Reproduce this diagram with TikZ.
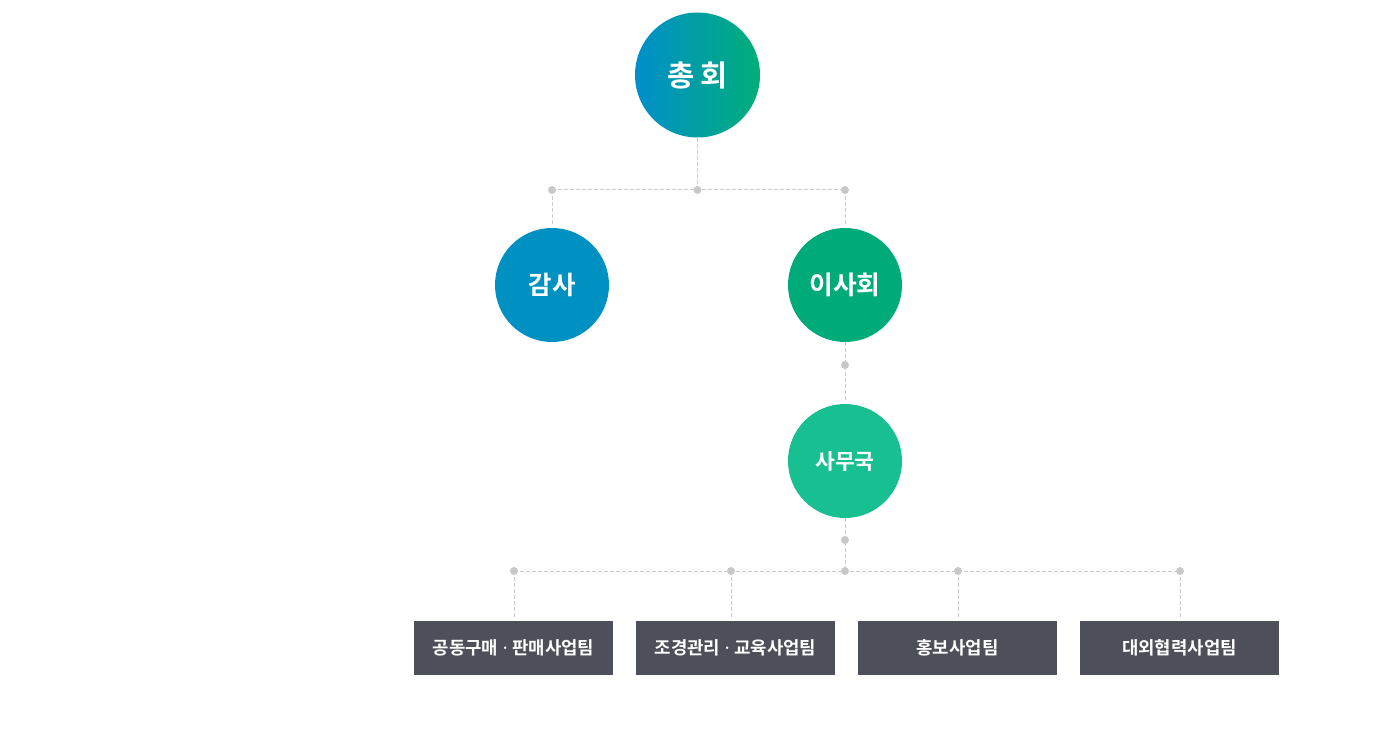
\documentclass[tikz,border=0pt]{standalone}
\usepackage{fontspec}
\newfontfamily\kr{Noto Sans CJK KR}[BoldFont={* Bold}]
\newfontfamily\latn{Noto Sans}
\newcommand{\mdot}{{\latn\bfseries\ ·\ }}
\definecolor{cblue}{HTML}{0091C3}
\definecolor{cgreen}{HTML}{00AB7A}
\definecolor{cmint}{HTML}{18BF90}
\definecolor{gradL}{HTML}{008FCB}
\definecolor{gradR}{HTML}{00AE78}
\definecolor{boxc}{HTML}{4D5059}
\definecolor{linec}{HTML}{CBCBCB}
\definecolor{dotc}{HTML}{C8C8C8}
\tikzset{
  x=1pt, y=-1pt,
  circ/.style={circle, inner sep=0pt, text=white, font=\kr\bfseries},
  team/.style={rectangle, fill=boxc, minimum width=199pt, minimum height=54pt, inner sep=0pt, text=white, font=\kr\bfseries\fontsize{17.8}{19}\selectfont},
  conn/.style={draw=linec, line width=1pt, dash pattern=on 4pt off 2pt},
  dotp/.style={circle, fill=dotc, inner sep=0pt, minimum size=8pt},
}
\begin{document}
\begin{tikzpicture}
\useasboundingbox (0,0) rectangle (1398,730);
% nodes
\node[circ, minimum size=125pt, left color=gradL, right color=gradR, font=\kr\bfseries\fontsize{29.5}{31}\selectfont] (gen) at (697.5,75) {총 회};
\node[circ, minimum size=114pt, fill=cblue, font=\kr\bfseries\fontsize{25.5}{27}\selectfont] (audit) at (552,285) {감사};
\node[circ, minimum size=114pt, fill=cgreen, font=\kr\bfseries\fontsize{25.8}{27}\selectfont] (board) at (845,285) {이사회};
\node[circ, minimum size=114pt, fill=cmint, font=\kr\bfseries\fontsize{21.5}{23}\selectfont] (sec) at (845,461) {사무국};
\node[team] (t1) at (513.5,648) {공동구매\mdot 판매사업팀};
\node[team] (t2) at (735.5,648) {조경관리\mdot 교육사업팀};
\node[team] (t3) at (957.5,648) {홍보사업팀};
\node[team] (t4) at (1179.5,648) {대외협력사업팀};
% junction coordinates
\coordinate (j0) at (697.5,190);
\coordinate (jl) at (552,190);
\coordinate (jr) at (845,190);
\coordinate (ja) at (552,225);
\coordinate (jb) at (845,225);
\coordinate (m1) at (845,365);
\coordinate (m1e) at (845,400);
\coordinate (m2) at (845,540);
\coordinate (k0) at (845,571);
\coordinate (k1) at (514,571);
\coordinate (k2) at (731,571);
\coordinate (k3) at (958,571);
\coordinate (k4) at (1180,571);
\coordinate (e1) at (514,617);
\coordinate (e2) at (731,617);
\coordinate (e3) at (958,617);
\coordinate (e4) at (1180,617);
% connectors
\draw[conn] (gen.south) -- (j0);
\draw[conn] (jl) -- (jr);
\draw[conn] (jl) -- (ja);
\draw[conn] (jr) -- (jb);
\draw[conn] (board.south) -- (m1e);
\draw[conn] (sec.south) -- (k0);
\draw[conn] (k1) -- (k4);
\draw[conn] (k1) -- (e1);
\draw[conn] (k2) -- (e2);
\draw[conn] (k3) -- (e3);
\draw[conn] (k4) -- (e4);
% dots
\foreach \p in {j0,jl,jr,m1,m2,k0,k1,k2,k3,k4}
  \node[dotp] at (\p) {};
\end{tikzpicture}
\end{document}
